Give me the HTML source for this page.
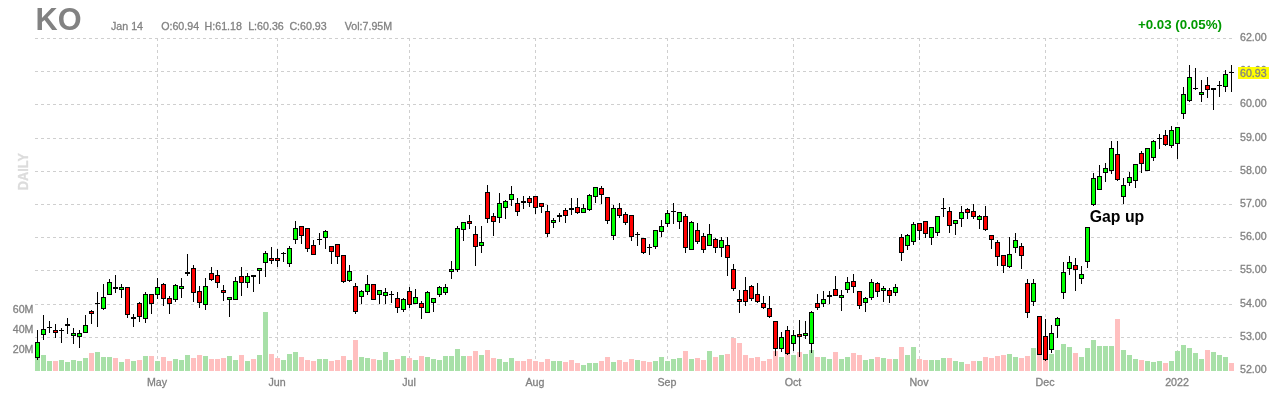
<!DOCTYPE html>
<html lang="en"><head><meta charset="utf-8"><title>KO Daily Chart</title>
<style>html,body{margin:0;padding:0;background:#fff;}body{width:1280px;height:400px;overflow:hidden;}svg{display:block;will-change:transform;}text{font-family:"Liberation Sans", Arial, Helvetica, sans-serif;}.l{font-size:10.67px;fill:#828282;stroke:#828282;stroke-width:0.3px;}</style></head><body>
<svg width="1280" height="400" viewBox="0 0 1280 400">
<g shape-rendering="crispEdges" stroke="#cfcfcf" stroke-width="1" stroke-dasharray="3 3" fill="none">
<line x1="35" y1="38.5" x2="1232" y2="38.5"/>
<line x1="35" y1="71.5" x2="1232" y2="71.5"/>
<line x1="35" y1="104.5" x2="1232" y2="104.5"/>
<line x1="35" y1="138.5" x2="1232" y2="138.5"/>
<line x1="35" y1="171.5" x2="1232" y2="171.5"/>
<line x1="35" y1="204.5" x2="1232" y2="204.5"/>
<line x1="35" y1="237.5" x2="1232" y2="237.5"/>
<line x1="35" y1="270.5" x2="1232" y2="270.5"/>
<line x1="35" y1="304.5" x2="1232" y2="304.5"/>
<line x1="35" y1="337.5" x2="1232" y2="337.5"/>
<line x1="157.5" y1="38" x2="157.5" y2="371"/>
<line x1="277.5" y1="38" x2="277.5" y2="371"/>
<line x1="409.5" y1="38" x2="409.5" y2="371"/>
<line x1="535.5" y1="38" x2="535.5" y2="371"/>
<line x1="667.5" y1="38" x2="667.5" y2="371"/>
<line x1="793.5" y1="38" x2="793.5" y2="371"/>
<line x1="919.5" y1="38" x2="919.5" y2="371"/>
<line x1="1045.5" y1="38" x2="1045.5" y2="371"/>
<line x1="1177.5" y1="38" x2="1177.5" y2="371"/>
</g>
<g shape-rendering="crispEdges">
<rect x="35" y="358" width="5" height="13" fill="#a8e0a8"/>
<rect x="41" y="355" width="5" height="16" fill="#a8e0a8"/>
<rect x="47" y="361" width="5" height="10" fill="#a8e0a8"/>
<rect x="53" y="361" width="5" height="10" fill="#ffbfbf"/>
<rect x="59" y="360" width="5" height="11" fill="#a8e0a8"/>
<rect x="65" y="362" width="5" height="9" fill="#a8e0a8"/>
<rect x="71" y="360" width="5" height="11" fill="#a8e0a8"/>
<rect x="77" y="361" width="5" height="10" fill="#a8e0a8"/>
<rect x="83" y="358" width="5" height="13" fill="#a8e0a8"/>
<rect x="89" y="353" width="5" height="18" fill="#ffbfbf"/>
<rect x="95" y="352" width="5" height="19" fill="#a8e0a8"/>
<rect x="101" y="357" width="5" height="14" fill="#a8e0a8"/>
<rect x="107" y="357" width="5" height="14" fill="#a8e0a8"/>
<rect x="113" y="358" width="5" height="13" fill="#ffbfbf"/>
<rect x="119" y="362" width="5" height="9" fill="#a8e0a8"/>
<rect x="125" y="359" width="5" height="12" fill="#ffbfbf"/>
<rect x="131" y="361" width="5" height="10" fill="#a8e0a8"/>
<rect x="137" y="360" width="5" height="11" fill="#ffbfbf"/>
<rect x="143" y="356" width="5" height="15" fill="#a8e0a8"/>
<rect x="149" y="356" width="5" height="15" fill="#ffbfbf"/>
<rect x="155" y="361" width="5" height="10" fill="#a8e0a8"/>
<rect x="161" y="357" width="5" height="14" fill="#ffbfbf"/>
<rect x="167" y="361" width="5" height="10" fill="#ffbfbf"/>
<rect x="173" y="359" width="5" height="12" fill="#a8e0a8"/>
<rect x="179" y="360" width="5" height="11" fill="#a8e0a8"/>
<rect x="185" y="355" width="5" height="16" fill="#a8e0a8"/>
<rect x="191" y="358" width="5" height="13" fill="#ffbfbf"/>
<rect x="197" y="355" width="5" height="16" fill="#ffbfbf"/>
<rect x="203" y="356" width="5" height="15" fill="#a8e0a8"/>
<rect x="209" y="359" width="5" height="12" fill="#ffbfbf"/>
<rect x="215" y="359" width="5" height="12" fill="#ffbfbf"/>
<rect x="221" y="358" width="5" height="13" fill="#ffbfbf"/>
<rect x="227" y="356" width="5" height="15" fill="#a8e0a8"/>
<rect x="233" y="360" width="5" height="11" fill="#a8e0a8"/>
<rect x="239" y="355" width="5" height="16" fill="#ffbfbf"/>
<rect x="245" y="361" width="5" height="10" fill="#a8e0a8"/>
<rect x="251" y="359" width="5" height="12" fill="#ffbfbf"/>
<rect x="257" y="355" width="5" height="16" fill="#a8e0a8"/>
<rect x="263" y="312" width="5" height="59" fill="#a8e0a8"/>
<rect x="269" y="354" width="5" height="17" fill="#ffbfbf"/>
<rect x="275" y="358" width="5" height="13" fill="#ffbfbf"/>
<rect x="281" y="360" width="5" height="11" fill="#a8e0a8"/>
<rect x="287" y="354" width="5" height="17" fill="#a8e0a8"/>
<rect x="293" y="352" width="5" height="19" fill="#a8e0a8"/>
<rect x="299" y="357" width="5" height="14" fill="#ffbfbf"/>
<rect x="305" y="360" width="5" height="11" fill="#ffbfbf"/>
<rect x="311" y="361" width="5" height="10" fill="#ffbfbf"/>
<rect x="317" y="359" width="5" height="12" fill="#a8e0a8"/>
<rect x="323" y="359" width="5" height="12" fill="#a8e0a8"/>
<rect x="329" y="361" width="5" height="10" fill="#ffbfbf"/>
<rect x="335" y="360" width="5" height="11" fill="#ffbfbf"/>
<rect x="341" y="356" width="5" height="15" fill="#ffbfbf"/>
<rect x="347" y="360" width="5" height="11" fill="#a8e0a8"/>
<rect x="353" y="340" width="5" height="31" fill="#ffbfbf"/>
<rect x="359" y="357" width="5" height="14" fill="#a8e0a8"/>
<rect x="365" y="358" width="5" height="13" fill="#a8e0a8"/>
<rect x="371" y="359" width="5" height="12" fill="#ffbfbf"/>
<rect x="377" y="360" width="5" height="11" fill="#a8e0a8"/>
<rect x="383" y="352" width="5" height="19" fill="#a8e0a8"/>
<rect x="389" y="360" width="5" height="11" fill="#a8e0a8"/>
<rect x="395" y="359" width="5" height="12" fill="#ffbfbf"/>
<rect x="401" y="356" width="5" height="15" fill="#a8e0a8"/>
<rect x="407" y="358" width="5" height="13" fill="#ffbfbf"/>
<rect x="413" y="360" width="5" height="11" fill="#a8e0a8"/>
<rect x="419" y="356" width="5" height="15" fill="#ffbfbf"/>
<rect x="425" y="357" width="5" height="14" fill="#a8e0a8"/>
<rect x="431" y="359" width="5" height="12" fill="#a8e0a8"/>
<rect x="437" y="360" width="5" height="11" fill="#a8e0a8"/>
<rect x="443" y="356" width="5" height="15" fill="#a8e0a8"/>
<rect x="449" y="356" width="5" height="15" fill="#a8e0a8"/>
<rect x="455" y="349" width="5" height="22" fill="#a8e0a8"/>
<rect x="461" y="356" width="5" height="15" fill="#a8e0a8"/>
<rect x="467" y="356" width="5" height="15" fill="#ffbfbf"/>
<rect x="473" y="351" width="5" height="20" fill="#ffbfbf"/>
<rect x="479" y="355" width="5" height="16" fill="#a8e0a8"/>
<rect x="485" y="350" width="5" height="21" fill="#ffbfbf"/>
<rect x="491" y="358" width="5" height="13" fill="#ffbfbf"/>
<rect x="497" y="359" width="5" height="12" fill="#a8e0a8"/>
<rect x="503" y="362" width="5" height="9" fill="#a8e0a8"/>
<rect x="509" y="358" width="5" height="13" fill="#a8e0a8"/>
<rect x="515" y="361" width="5" height="10" fill="#ffbfbf"/>
<rect x="521" y="361" width="5" height="10" fill="#ffbfbf"/>
<rect x="527" y="359" width="5" height="12" fill="#ffbfbf"/>
<rect x="533" y="361" width="5" height="10" fill="#ffbfbf"/>
<rect x="539" y="362" width="5" height="9" fill="#ffbfbf"/>
<rect x="545" y="359" width="5" height="12" fill="#ffbfbf"/>
<rect x="551" y="361" width="5" height="10" fill="#a8e0a8"/>
<rect x="557" y="361" width="5" height="10" fill="#a8e0a8"/>
<rect x="563" y="362" width="5" height="9" fill="#ffbfbf"/>
<rect x="569" y="360" width="5" height="11" fill="#ffbfbf"/>
<rect x="575" y="363" width="5" height="8" fill="#ffbfbf"/>
<rect x="581" y="365" width="5" height="6" fill="#a8e0a8"/>
<rect x="587" y="363" width="5" height="8" fill="#a8e0a8"/>
<rect x="593" y="363" width="5" height="8" fill="#a8e0a8"/>
<rect x="599" y="361" width="5" height="10" fill="#ffbfbf"/>
<rect x="605" y="357" width="5" height="14" fill="#ffbfbf"/>
<rect x="611" y="362" width="5" height="9" fill="#a8e0a8"/>
<rect x="617" y="360" width="5" height="11" fill="#ffbfbf"/>
<rect x="623" y="362" width="5" height="9" fill="#ffbfbf"/>
<rect x="629" y="359" width="5" height="12" fill="#ffbfbf"/>
<rect x="635" y="360" width="5" height="11" fill="#a8e0a8"/>
<rect x="641" y="361" width="5" height="10" fill="#ffbfbf"/>
<rect x="647" y="362" width="5" height="9" fill="#ffbfbf"/>
<rect x="653" y="361" width="5" height="10" fill="#a8e0a8"/>
<rect x="659" y="357" width="5" height="14" fill="#a8e0a8"/>
<rect x="665" y="361" width="5" height="10" fill="#a8e0a8"/>
<rect x="671" y="359" width="5" height="12" fill="#a8e0a8"/>
<rect x="677" y="358" width="5" height="13" fill="#a8e0a8"/>
<rect x="683" y="351" width="5" height="20" fill="#ffbfbf"/>
<rect x="689" y="359" width="5" height="12" fill="#a8e0a8"/>
<rect x="695" y="358" width="5" height="13" fill="#ffbfbf"/>
<rect x="701" y="360" width="5" height="11" fill="#ffbfbf"/>
<rect x="707" y="351" width="5" height="20" fill="#a8e0a8"/>
<rect x="713" y="357" width="5" height="14" fill="#ffbfbf"/>
<rect x="719" y="355" width="5" height="16" fill="#a8e0a8"/>
<rect x="725" y="354" width="5" height="17" fill="#ffbfbf"/>
<rect x="731" y="338" width="5" height="33" fill="#ffbfbf"/>
<rect x="737" y="343" width="5" height="28" fill="#ffbfbf"/>
<rect x="743" y="355" width="5" height="16" fill="#ffbfbf"/>
<rect x="749" y="358" width="5" height="13" fill="#ffbfbf"/>
<rect x="755" y="357" width="5" height="14" fill="#ffbfbf"/>
<rect x="761" y="361" width="5" height="10" fill="#ffbfbf"/>
<rect x="767" y="359" width="5" height="12" fill="#ffbfbf"/>
<rect x="773" y="351" width="5" height="20" fill="#ffbfbf"/>
<rect x="779" y="357" width="5" height="14" fill="#a8e0a8"/>
<rect x="785" y="354" width="5" height="17" fill="#ffbfbf"/>
<rect x="791" y="355" width="5" height="16" fill="#a8e0a8"/>
<rect x="797" y="352" width="5" height="19" fill="#ffbfbf"/>
<rect x="803" y="354" width="5" height="17" fill="#a8e0a8"/>
<rect x="809" y="350" width="5" height="21" fill="#a8e0a8"/>
<rect x="815" y="357" width="5" height="14" fill="#ffbfbf"/>
<rect x="821" y="357" width="5" height="14" fill="#a8e0a8"/>
<rect x="827" y="359" width="5" height="12" fill="#a8e0a8"/>
<rect x="833" y="352" width="5" height="19" fill="#ffbfbf"/>
<rect x="839" y="359" width="5" height="12" fill="#a8e0a8"/>
<rect x="845" y="357" width="5" height="14" fill="#a8e0a8"/>
<rect x="851" y="353" width="5" height="18" fill="#ffbfbf"/>
<rect x="857" y="355" width="5" height="16" fill="#ffbfbf"/>
<rect x="863" y="360" width="5" height="11" fill="#a8e0a8"/>
<rect x="869" y="359" width="5" height="12" fill="#a8e0a8"/>
<rect x="875" y="357" width="5" height="14" fill="#ffbfbf"/>
<rect x="881" y="358" width="5" height="13" fill="#a8e0a8"/>
<rect x="887" y="359" width="5" height="12" fill="#ffbfbf"/>
<rect x="893" y="359" width="5" height="12" fill="#a8e0a8"/>
<rect x="899" y="347" width="5" height="24" fill="#ffbfbf"/>
<rect x="905" y="355" width="5" height="16" fill="#a8e0a8"/>
<rect x="911" y="347" width="5" height="24" fill="#a8e0a8"/>
<rect x="917" y="359" width="5" height="12" fill="#ffbfbf"/>
<rect x="923" y="360" width="5" height="11" fill="#ffbfbf"/>
<rect x="929" y="360" width="5" height="11" fill="#a8e0a8"/>
<rect x="935" y="360" width="5" height="11" fill="#a8e0a8"/>
<rect x="941" y="358" width="5" height="13" fill="#a8e0a8"/>
<rect x="947" y="358" width="5" height="13" fill="#ffbfbf"/>
<rect x="953" y="361" width="5" height="10" fill="#a8e0a8"/>
<rect x="959" y="362" width="5" height="9" fill="#a8e0a8"/>
<rect x="965" y="364" width="5" height="7" fill="#ffbfbf"/>
<rect x="971" y="361" width="5" height="10" fill="#ffbfbf"/>
<rect x="977" y="361" width="5" height="10" fill="#a8e0a8"/>
<rect x="983" y="357" width="5" height="14" fill="#ffbfbf"/>
<rect x="989" y="358" width="5" height="13" fill="#ffbfbf"/>
<rect x="995" y="356" width="5" height="15" fill="#ffbfbf"/>
<rect x="1001" y="355" width="5" height="16" fill="#ffbfbf"/>
<rect x="1007" y="354" width="5" height="17" fill="#a8e0a8"/>
<rect x="1013" y="357" width="5" height="14" fill="#a8e0a8"/>
<rect x="1019" y="358" width="5" height="13" fill="#ffbfbf"/>
<rect x="1025" y="356" width="5" height="15" fill="#ffbfbf"/>
<rect x="1031" y="348" width="5" height="23" fill="#a8e0a8"/>
<rect x="1037" y="355" width="5" height="16" fill="#ffbfbf"/>
<rect x="1043" y="360" width="5" height="11" fill="#ffbfbf"/>
<rect x="1049" y="354" width="5" height="17" fill="#a8e0a8"/>
<rect x="1055" y="350" width="5" height="21" fill="#a8e0a8"/>
<rect x="1061" y="344" width="5" height="27" fill="#a8e0a8"/>
<rect x="1067" y="347" width="5" height="24" fill="#a8e0a8"/>
<rect x="1073" y="353" width="5" height="18" fill="#ffbfbf"/>
<rect x="1079" y="357" width="5" height="14" fill="#a8e0a8"/>
<rect x="1085" y="348" width="5" height="23" fill="#a8e0a8"/>
<rect x="1091" y="340" width="5" height="31" fill="#a8e0a8"/>
<rect x="1097" y="346" width="5" height="25" fill="#a8e0a8"/>
<rect x="1103" y="346" width="5" height="25" fill="#a8e0a8"/>
<rect x="1109" y="346" width="5" height="25" fill="#a8e0a8"/>
<rect x="1115" y="319" width="5" height="52" fill="#ffbfbf"/>
<rect x="1121" y="350" width="5" height="21" fill="#a8e0a8"/>
<rect x="1127" y="355" width="5" height="16" fill="#a8e0a8"/>
<rect x="1133" y="359" width="5" height="12" fill="#a8e0a8"/>
<rect x="1139" y="360" width="5" height="11" fill="#ffbfbf"/>
<rect x="1145" y="361" width="5" height="10" fill="#a8e0a8"/>
<rect x="1151" y="362" width="5" height="9" fill="#a8e0a8"/>
<rect x="1157" y="361" width="5" height="10" fill="#a8e0a8"/>
<rect x="1163" y="363" width="5" height="8" fill="#ffbfbf"/>
<rect x="1169" y="361" width="5" height="10" fill="#a8e0a8"/>
<rect x="1175" y="351" width="5" height="20" fill="#a8e0a8"/>
<rect x="1181" y="345" width="5" height="26" fill="#a8e0a8"/>
<rect x="1187" y="348" width="5" height="23" fill="#a8e0a8"/>
<rect x="1193" y="353" width="5" height="18" fill="#a8e0a8"/>
<rect x="1199" y="359" width="5" height="12" fill="#a8e0a8"/>
<rect x="1205" y="350" width="5" height="21" fill="#ffbfbf"/>
<rect x="1211" y="352" width="5" height="19" fill="#a8e0a8"/>
<rect x="1217" y="355" width="5" height="16" fill="#a8e0a8"/>
<rect x="1223" y="357" width="5" height="14" fill="#a8e0a8"/>
<rect x="1229" y="363" width="5" height="8" fill="#ffbfbf"/>
</g>
<g shape-rendering="crispEdges">
<rect x="37" y="330" width="1" height="30" fill="#000"/>
<rect x="35" y="342" width="5" height="16" fill="#000"/>
<rect x="36" y="343" width="3" height="14" fill="#00ff00"/>
<rect x="43" y="315" width="1" height="25" fill="#000"/>
<rect x="41" y="329" width="5" height="6" fill="#000"/>
<rect x="42" y="330" width="3" height="4" fill="#00ff00"/>
<rect x="49" y="321" width="1" height="12" fill="#000"/>
<rect x="47" y="327" width="5" height="1" fill="#000"/>
<rect x="55" y="324" width="1" height="14" fill="#000"/>
<rect x="53" y="330" width="5" height="3" fill="#000"/>
<rect x="54" y="331" width="3" height="1" fill="#ff0000"/>
<rect x="61" y="328" width="1" height="15" fill="#000"/>
<rect x="59" y="330" width="5" height="1" fill="#000"/>
<rect x="67" y="318" width="1" height="16" fill="#000"/>
<rect x="65" y="324" width="5" height="2" fill="#000"/>
<rect x="73" y="328" width="1" height="16" fill="#000"/>
<rect x="71" y="333" width="5" height="3" fill="#000"/>
<rect x="72" y="334" width="3" height="1" fill="#00ff00"/>
<rect x="79" y="330" width="1" height="18" fill="#000"/>
<rect x="77" y="333" width="5" height="4" fill="#000"/>
<rect x="78" y="334" width="3" height="2" fill="#00ff00"/>
<rect x="85" y="315" width="1" height="18" fill="#000"/>
<rect x="83" y="325" width="5" height="8" fill="#000"/>
<rect x="84" y="326" width="3" height="6" fill="#00ff00"/>
<rect x="91" y="310" width="1" height="14" fill="#000"/>
<rect x="89" y="311" width="5" height="3" fill="#000"/>
<rect x="90" y="312" width="3" height="1" fill="#ff0000"/>
<rect x="97" y="292" width="1" height="35" fill="#000"/>
<rect x="95" y="303" width="5" height="1" fill="#000"/>
<rect x="103" y="284" width="1" height="26" fill="#000"/>
<rect x="101" y="297" width="5" height="12" fill="#000"/>
<rect x="102" y="298" width="3" height="10" fill="#00ff00"/>
<rect x="109" y="279" width="1" height="16" fill="#000"/>
<rect x="107" y="282" width="5" height="13" fill="#000"/>
<rect x="108" y="283" width="3" height="11" fill="#00ff00"/>
<rect x="115" y="275" width="1" height="18" fill="#000"/>
<rect x="113" y="287" width="5" height="2" fill="#000"/>
<rect x="121" y="284" width="1" height="14" fill="#000"/>
<rect x="119" y="287" width="5" height="3" fill="#000"/>
<rect x="120" y="288" width="3" height="1" fill="#00ff00"/>
<rect x="127" y="287" width="1" height="31" fill="#000"/>
<rect x="125" y="287" width="5" height="28" fill="#000"/>
<rect x="126" y="288" width="3" height="26" fill="#ff0000"/>
<rect x="133" y="314" width="1" height="13" fill="#000"/>
<rect x="131" y="317" width="5" height="2" fill="#000"/>
<rect x="139" y="302" width="1" height="20" fill="#000"/>
<rect x="137" y="303" width="5" height="14" fill="#000"/>
<rect x="138" y="304" width="3" height="12" fill="#ff0000"/>
<rect x="145" y="292" width="1" height="31" fill="#000"/>
<rect x="143" y="294" width="5" height="25" fill="#000"/>
<rect x="144" y="295" width="3" height="23" fill="#00ff00"/>
<rect x="151" y="294" width="1" height="20" fill="#000"/>
<rect x="149" y="294" width="5" height="10" fill="#000"/>
<rect x="150" y="295" width="3" height="8" fill="#ff0000"/>
<rect x="157" y="278" width="1" height="21" fill="#000"/>
<rect x="155" y="287" width="5" height="8" fill="#000"/>
<rect x="156" y="288" width="3" height="6" fill="#00ff00"/>
<rect x="163" y="283" width="1" height="23" fill="#000"/>
<rect x="161" y="284" width="5" height="15" fill="#000"/>
<rect x="162" y="285" width="3" height="13" fill="#ff0000"/>
<rect x="169" y="296" width="1" height="18" fill="#000"/>
<rect x="167" y="298" width="5" height="6" fill="#000"/>
<rect x="168" y="299" width="3" height="4" fill="#ff0000"/>
<rect x="175" y="284" width="1" height="18" fill="#000"/>
<rect x="173" y="285" width="5" height="15" fill="#000"/>
<rect x="174" y="286" width="3" height="13" fill="#00ff00"/>
<rect x="181" y="278" width="1" height="20" fill="#000"/>
<rect x="179" y="286" width="5" height="3" fill="#000"/>
<rect x="180" y="287" width="3" height="1" fill="#00ff00"/>
<rect x="187" y="254" width="1" height="22" fill="#000"/>
<rect x="185" y="272" width="5" height="2" fill="#000"/>
<rect x="193" y="265" width="1" height="37" fill="#000"/>
<rect x="191" y="268" width="5" height="25" fill="#000"/>
<rect x="192" y="269" width="3" height="23" fill="#ff0000"/>
<rect x="199" y="286" width="1" height="22" fill="#000"/>
<rect x="197" y="291" width="5" height="12" fill="#000"/>
<rect x="198" y="292" width="3" height="10" fill="#ff0000"/>
<rect x="205" y="278" width="1" height="32" fill="#000"/>
<rect x="203" y="286" width="5" height="19" fill="#000"/>
<rect x="204" y="287" width="3" height="17" fill="#00ff00"/>
<rect x="211" y="267" width="1" height="14" fill="#000"/>
<rect x="209" y="273" width="5" height="7" fill="#000"/>
<rect x="210" y="274" width="3" height="5" fill="#ff0000"/>
<rect x="217" y="270" width="1" height="18" fill="#000"/>
<rect x="215" y="275" width="5" height="8" fill="#000"/>
<rect x="216" y="276" width="3" height="6" fill="#ff0000"/>
<rect x="223" y="285" width="1" height="16" fill="#000"/>
<rect x="221" y="290" width="5" height="3" fill="#000"/>
<rect x="222" y="291" width="3" height="1" fill="#ff0000"/>
<rect x="229" y="297" width="1" height="20" fill="#000"/>
<rect x="227" y="297" width="5" height="3" fill="#000"/>
<rect x="228" y="298" width="3" height="1" fill="#00ff00"/>
<rect x="235" y="277" width="1" height="23" fill="#000"/>
<rect x="233" y="281" width="5" height="19" fill="#000"/>
<rect x="234" y="282" width="3" height="17" fill="#00ff00"/>
<rect x="241" y="267" width="1" height="29" fill="#000"/>
<rect x="239" y="276" width="5" height="7" fill="#000"/>
<rect x="240" y="277" width="3" height="5" fill="#ff0000"/>
<rect x="247" y="273" width="1" height="15" fill="#000"/>
<rect x="245" y="276" width="5" height="7" fill="#000"/>
<rect x="246" y="277" width="3" height="5" fill="#00ff00"/>
<rect x="253" y="275" width="1" height="17" fill="#000"/>
<rect x="251" y="275" width="5" height="2" fill="#000"/>
<rect x="259" y="268" width="1" height="16" fill="#000"/>
<rect x="257" y="268" width="5" height="3" fill="#000"/>
<rect x="258" y="269" width="3" height="1" fill="#00ff00"/>
<rect x="265" y="251" width="1" height="26" fill="#000"/>
<rect x="263" y="253" width="5" height="10" fill="#000"/>
<rect x="264" y="254" width="3" height="8" fill="#00ff00"/>
<rect x="271" y="247" width="1" height="17" fill="#000"/>
<rect x="269" y="258" width="5" height="3" fill="#000"/>
<rect x="270" y="259" width="3" height="1" fill="#ff0000"/>
<rect x="277" y="249" width="1" height="18" fill="#000"/>
<rect x="275" y="258" width="5" height="3" fill="#000"/>
<rect x="276" y="259" width="3" height="1" fill="#ff0000"/>
<rect x="283" y="252" width="1" height="10" fill="#000"/>
<rect x="281" y="253" width="5" height="1" fill="#000"/>
<rect x="289" y="246" width="1" height="21" fill="#000"/>
<rect x="287" y="248" width="5" height="16" fill="#000"/>
<rect x="288" y="249" width="3" height="14" fill="#00ff00"/>
<rect x="295" y="221" width="1" height="23" fill="#000"/>
<rect x="293" y="228" width="5" height="12" fill="#000"/>
<rect x="294" y="229" width="3" height="10" fill="#00ff00"/>
<rect x="301" y="226" width="1" height="18" fill="#000"/>
<rect x="299" y="226" width="5" height="10" fill="#000"/>
<rect x="300" y="227" width="3" height="8" fill="#ff0000"/>
<rect x="307" y="228" width="1" height="24" fill="#000"/>
<rect x="305" y="228" width="5" height="21" fill="#000"/>
<rect x="306" y="229" width="3" height="19" fill="#ff0000"/>
<rect x="313" y="240" width="1" height="15" fill="#000"/>
<rect x="311" y="245" width="5" height="10" fill="#000"/>
<rect x="312" y="246" width="3" height="8" fill="#ff0000"/>
<rect x="319" y="233" width="1" height="12" fill="#000"/>
<rect x="317" y="239" width="5" height="1" fill="#000"/>
<rect x="325" y="230" width="1" height="19" fill="#000"/>
<rect x="323" y="231" width="5" height="7" fill="#000"/>
<rect x="324" y="232" width="3" height="5" fill="#00ff00"/>
<rect x="331" y="246" width="1" height="18" fill="#000"/>
<rect x="329" y="246" width="5" height="6" fill="#000"/>
<rect x="330" y="247" width="3" height="4" fill="#ff0000"/>
<rect x="337" y="244" width="1" height="20" fill="#000"/>
<rect x="335" y="244" width="5" height="13" fill="#000"/>
<rect x="336" y="245" width="3" height="11" fill="#ff0000"/>
<rect x="343" y="255" width="1" height="28" fill="#000"/>
<rect x="341" y="255" width="5" height="27" fill="#000"/>
<rect x="342" y="256" width="3" height="25" fill="#ff0000"/>
<rect x="349" y="265" width="1" height="17" fill="#000"/>
<rect x="347" y="271" width="5" height="10" fill="#000"/>
<rect x="348" y="272" width="3" height="8" fill="#00ff00"/>
<rect x="355" y="283" width="1" height="31" fill="#000"/>
<rect x="353" y="286" width="5" height="26" fill="#000"/>
<rect x="354" y="287" width="3" height="24" fill="#ff0000"/>
<rect x="361" y="290" width="1" height="14" fill="#000"/>
<rect x="359" y="291" width="5" height="6" fill="#000"/>
<rect x="360" y="292" width="3" height="4" fill="#00ff00"/>
<rect x="367" y="275" width="1" height="20" fill="#000"/>
<rect x="365" y="284" width="5" height="8" fill="#000"/>
<rect x="366" y="285" width="3" height="6" fill="#00ff00"/>
<rect x="373" y="284" width="1" height="16" fill="#000"/>
<rect x="371" y="284" width="5" height="16" fill="#000"/>
<rect x="372" y="285" width="3" height="14" fill="#ff0000"/>
<rect x="379" y="290" width="1" height="14" fill="#000"/>
<rect x="377" y="290" width="5" height="5" fill="#000"/>
<rect x="378" y="291" width="3" height="3" fill="#00ff00"/>
<rect x="385" y="288" width="1" height="16" fill="#000"/>
<rect x="383" y="292" width="5" height="4" fill="#000"/>
<rect x="384" y="293" width="3" height="2" fill="#00ff00"/>
<rect x="391" y="291" width="1" height="12" fill="#000"/>
<rect x="389" y="294" width="5" height="1" fill="#000"/>
<rect x="397" y="292" width="1" height="21" fill="#000"/>
<rect x="395" y="298" width="5" height="10" fill="#000"/>
<rect x="396" y="299" width="3" height="8" fill="#ff0000"/>
<rect x="403" y="298" width="1" height="14" fill="#000"/>
<rect x="401" y="299" width="5" height="11" fill="#000"/>
<rect x="402" y="300" width="3" height="9" fill="#00ff00"/>
<rect x="409" y="287" width="1" height="21" fill="#000"/>
<rect x="407" y="291" width="5" height="14" fill="#000"/>
<rect x="408" y="292" width="3" height="12" fill="#ff0000"/>
<rect x="415" y="289" width="1" height="15" fill="#000"/>
<rect x="413" y="297" width="5" height="7" fill="#000"/>
<rect x="414" y="298" width="3" height="5" fill="#00ff00"/>
<rect x="421" y="301" width="1" height="18" fill="#000"/>
<rect x="419" y="303" width="5" height="5" fill="#000"/>
<rect x="420" y="304" width="3" height="3" fill="#ff0000"/>
<rect x="427" y="291" width="1" height="22" fill="#000"/>
<rect x="425" y="292" width="5" height="21" fill="#000"/>
<rect x="426" y="293" width="3" height="19" fill="#00ff00"/>
<rect x="433" y="298" width="1" height="14" fill="#000"/>
<rect x="431" y="298" width="5" height="5" fill="#000"/>
<rect x="432" y="299" width="3" height="3" fill="#00ff00"/>
<rect x="439" y="286" width="1" height="11" fill="#000"/>
<rect x="437" y="287" width="5" height="8" fill="#000"/>
<rect x="438" y="288" width="3" height="6" fill="#00ff00"/>
<rect x="445" y="284" width="1" height="11" fill="#000"/>
<rect x="443" y="287" width="5" height="6" fill="#000"/>
<rect x="444" y="288" width="3" height="4" fill="#00ff00"/>
<rect x="451" y="261" width="1" height="18" fill="#000"/>
<rect x="449" y="269" width="5" height="3" fill="#000"/>
<rect x="450" y="270" width="3" height="1" fill="#00ff00"/>
<rect x="457" y="226" width="1" height="46" fill="#000"/>
<rect x="455" y="228" width="5" height="42" fill="#000"/>
<rect x="456" y="229" width="3" height="40" fill="#00ff00"/>
<rect x="463" y="222" width="1" height="19" fill="#000"/>
<rect x="461" y="222" width="5" height="8" fill="#000"/>
<rect x="462" y="223" width="3" height="6" fill="#00ff00"/>
<rect x="469" y="215" width="1" height="14" fill="#000"/>
<rect x="467" y="221" width="5" height="3" fill="#000"/>
<rect x="468" y="222" width="3" height="1" fill="#ff0000"/>
<rect x="475" y="226" width="1" height="40" fill="#000"/>
<rect x="473" y="234" width="5" height="13" fill="#000"/>
<rect x="474" y="235" width="3" height="11" fill="#ff0000"/>
<rect x="481" y="226" width="1" height="27" fill="#000"/>
<rect x="479" y="242" width="5" height="4" fill="#000"/>
<rect x="480" y="243" width="3" height="2" fill="#00ff00"/>
<rect x="487" y="185" width="1" height="38" fill="#000"/>
<rect x="485" y="192" width="5" height="27" fill="#000"/>
<rect x="486" y="193" width="3" height="25" fill="#ff0000"/>
<rect x="493" y="213" width="1" height="23" fill="#000"/>
<rect x="491" y="216" width="5" height="6" fill="#000"/>
<rect x="492" y="217" width="3" height="4" fill="#ff0000"/>
<rect x="499" y="193" width="1" height="30" fill="#000"/>
<rect x="497" y="203" width="5" height="15" fill="#000"/>
<rect x="498" y="204" width="3" height="13" fill="#00ff00"/>
<rect x="505" y="200" width="1" height="19" fill="#000"/>
<rect x="503" y="201" width="5" height="7" fill="#000"/>
<rect x="504" y="202" width="3" height="5" fill="#00ff00"/>
<rect x="511" y="186" width="1" height="20" fill="#000"/>
<rect x="509" y="194" width="5" height="6" fill="#000"/>
<rect x="510" y="195" width="3" height="4" fill="#00ff00"/>
<rect x="517" y="198" width="1" height="18" fill="#000"/>
<rect x="515" y="203" width="5" height="9" fill="#000"/>
<rect x="516" y="204" width="3" height="7" fill="#ff0000"/>
<rect x="523" y="196" width="1" height="13" fill="#000"/>
<rect x="521" y="201" width="5" height="2" fill="#000"/>
<rect x="529" y="196" width="1" height="11" fill="#000"/>
<rect x="527" y="198" width="5" height="5" fill="#000"/>
<rect x="528" y="199" width="3" height="3" fill="#ff0000"/>
<rect x="535" y="196" width="1" height="18" fill="#000"/>
<rect x="533" y="196" width="5" height="12" fill="#000"/>
<rect x="534" y="197" width="3" height="10" fill="#ff0000"/>
<rect x="541" y="203" width="1" height="10" fill="#000"/>
<rect x="539" y="203" width="5" height="4" fill="#000"/>
<rect x="540" y="204" width="3" height="2" fill="#ff0000"/>
<rect x="547" y="205" width="1" height="32" fill="#000"/>
<rect x="545" y="211" width="5" height="23" fill="#000"/>
<rect x="546" y="212" width="3" height="21" fill="#ff0000"/>
<rect x="553" y="218" width="1" height="10" fill="#000"/>
<rect x="551" y="220" width="5" height="3" fill="#000"/>
<rect x="552" y="221" width="3" height="1" fill="#00ff00"/>
<rect x="559" y="213" width="1" height="9" fill="#000"/>
<rect x="557" y="215" width="5" height="2" fill="#000"/>
<rect x="565" y="208" width="1" height="15" fill="#000"/>
<rect x="563" y="210" width="5" height="6" fill="#000"/>
<rect x="564" y="211" width="3" height="4" fill="#ff0000"/>
<rect x="571" y="198" width="1" height="17" fill="#000"/>
<rect x="569" y="208" width="5" height="2" fill="#000"/>
<rect x="577" y="198" width="1" height="16" fill="#000"/>
<rect x="575" y="207" width="5" height="6" fill="#000"/>
<rect x="576" y="208" width="3" height="4" fill="#ff0000"/>
<rect x="583" y="204" width="1" height="9" fill="#000"/>
<rect x="581" y="208" width="5" height="5" fill="#000"/>
<rect x="582" y="209" width="3" height="3" fill="#00ff00"/>
<rect x="589" y="194" width="1" height="17" fill="#000"/>
<rect x="587" y="195" width="5" height="15" fill="#000"/>
<rect x="588" y="196" width="3" height="13" fill="#00ff00"/>
<rect x="595" y="187" width="1" height="16" fill="#000"/>
<rect x="593" y="187" width="5" height="10" fill="#000"/>
<rect x="594" y="188" width="3" height="8" fill="#00ff00"/>
<rect x="601" y="186" width="1" height="18" fill="#000"/>
<rect x="599" y="188" width="5" height="7" fill="#000"/>
<rect x="600" y="189" width="3" height="5" fill="#ff0000"/>
<rect x="607" y="197" width="1" height="27" fill="#000"/>
<rect x="605" y="197" width="5" height="24" fill="#000"/>
<rect x="606" y="198" width="3" height="22" fill="#ff0000"/>
<rect x="613" y="205" width="1" height="35" fill="#000"/>
<rect x="611" y="208" width="5" height="28" fill="#000"/>
<rect x="612" y="209" width="3" height="26" fill="#00ff00"/>
<rect x="619" y="203" width="1" height="15" fill="#000"/>
<rect x="617" y="208" width="5" height="8" fill="#000"/>
<rect x="618" y="209" width="3" height="6" fill="#ff0000"/>
<rect x="625" y="212" width="1" height="13" fill="#000"/>
<rect x="623" y="214" width="5" height="9" fill="#000"/>
<rect x="624" y="215" width="3" height="7" fill="#ff0000"/>
<rect x="631" y="215" width="1" height="26" fill="#000"/>
<rect x="629" y="215" width="5" height="22" fill="#000"/>
<rect x="630" y="216" width="3" height="20" fill="#ff0000"/>
<rect x="637" y="232" width="1" height="14" fill="#000"/>
<rect x="635" y="234" width="5" height="1" fill="#000"/>
<rect x="643" y="238" width="1" height="16" fill="#000"/>
<rect x="641" y="238" width="5" height="15" fill="#000"/>
<rect x="642" y="239" width="3" height="13" fill="#ff0000"/>
<rect x="649" y="244" width="1" height="11" fill="#000"/>
<rect x="647" y="247" width="5" height="1" fill="#000"/>
<rect x="655" y="230" width="1" height="19" fill="#000"/>
<rect x="653" y="230" width="5" height="17" fill="#000"/>
<rect x="654" y="231" width="3" height="15" fill="#00ff00"/>
<rect x="661" y="220" width="1" height="17" fill="#000"/>
<rect x="659" y="226" width="5" height="6" fill="#000"/>
<rect x="660" y="227" width="3" height="4" fill="#00ff00"/>
<rect x="667" y="210" width="1" height="17" fill="#000"/>
<rect x="665" y="213" width="5" height="11" fill="#000"/>
<rect x="666" y="214" width="3" height="9" fill="#00ff00"/>
<rect x="673" y="203" width="1" height="21" fill="#000"/>
<rect x="671" y="211" width="5" height="1" fill="#000"/>
<rect x="679" y="212" width="1" height="17" fill="#000"/>
<rect x="677" y="212" width="5" height="10" fill="#000"/>
<rect x="678" y="213" width="3" height="8" fill="#00ff00"/>
<rect x="685" y="214" width="1" height="39" fill="#000"/>
<rect x="683" y="216" width="5" height="32" fill="#000"/>
<rect x="684" y="217" width="3" height="30" fill="#ff0000"/>
<rect x="691" y="221" width="1" height="29" fill="#000"/>
<rect x="689" y="222" width="5" height="28" fill="#000"/>
<rect x="690" y="223" width="3" height="26" fill="#00ff00"/>
<rect x="697" y="223" width="1" height="21" fill="#000"/>
<rect x="695" y="230" width="5" height="12" fill="#000"/>
<rect x="696" y="231" width="3" height="10" fill="#ff0000"/>
<rect x="703" y="233" width="1" height="20" fill="#000"/>
<rect x="701" y="236" width="5" height="14" fill="#000"/>
<rect x="702" y="237" width="3" height="12" fill="#ff0000"/>
<rect x="709" y="224" width="1" height="22" fill="#000"/>
<rect x="707" y="234" width="5" height="12" fill="#000"/>
<rect x="708" y="235" width="3" height="10" fill="#00ff00"/>
<rect x="715" y="238" width="1" height="15" fill="#000"/>
<rect x="713" y="239" width="5" height="9" fill="#000"/>
<rect x="714" y="240" width="3" height="7" fill="#ff0000"/>
<rect x="721" y="237" width="1" height="20" fill="#000"/>
<rect x="719" y="240" width="5" height="8" fill="#000"/>
<rect x="720" y="241" width="3" height="6" fill="#00ff00"/>
<rect x="727" y="237" width="1" height="39" fill="#000"/>
<rect x="725" y="245" width="5" height="13" fill="#000"/>
<rect x="726" y="246" width="3" height="11" fill="#ff0000"/>
<rect x="733" y="264" width="1" height="27" fill="#000"/>
<rect x="731" y="269" width="5" height="20" fill="#000"/>
<rect x="732" y="270" width="3" height="18" fill="#ff0000"/>
<rect x="739" y="290" width="1" height="23" fill="#000"/>
<rect x="737" y="299" width="5" height="3" fill="#000"/>
<rect x="738" y="300" width="3" height="1" fill="#ff0000"/>
<rect x="745" y="277" width="1" height="29" fill="#000"/>
<rect x="743" y="290" width="5" height="12" fill="#000"/>
<rect x="744" y="291" width="3" height="10" fill="#ff0000"/>
<rect x="751" y="285" width="1" height="16" fill="#000"/>
<rect x="749" y="286" width="5" height="13" fill="#000"/>
<rect x="750" y="287" width="3" height="11" fill="#ff0000"/>
<rect x="757" y="283" width="1" height="20" fill="#000"/>
<rect x="755" y="294" width="5" height="8" fill="#000"/>
<rect x="756" y="295" width="3" height="6" fill="#ff0000"/>
<rect x="763" y="296" width="1" height="13" fill="#000"/>
<rect x="761" y="303" width="5" height="5" fill="#000"/>
<rect x="762" y="304" width="3" height="3" fill="#ff0000"/>
<rect x="769" y="296" width="1" height="22" fill="#000"/>
<rect x="767" y="308" width="5" height="9" fill="#000"/>
<rect x="768" y="309" width="3" height="7" fill="#ff0000"/>
<rect x="775" y="321" width="1" height="35" fill="#000"/>
<rect x="773" y="321" width="5" height="28" fill="#000"/>
<rect x="774" y="322" width="3" height="26" fill="#ff0000"/>
<rect x="781" y="332" width="1" height="20" fill="#000"/>
<rect x="779" y="337" width="5" height="12" fill="#000"/>
<rect x="780" y="338" width="3" height="10" fill="#00ff00"/>
<rect x="787" y="326" width="1" height="29" fill="#000"/>
<rect x="785" y="330" width="5" height="24" fill="#000"/>
<rect x="786" y="331" width="3" height="22" fill="#ff0000"/>
<rect x="793" y="330" width="1" height="21" fill="#000"/>
<rect x="791" y="335" width="5" height="9" fill="#000"/>
<rect x="792" y="336" width="3" height="7" fill="#00ff00"/>
<rect x="799" y="320" width="1" height="37" fill="#000"/>
<rect x="797" y="334" width="5" height="3" fill="#000"/>
<rect x="798" y="335" width="3" height="1" fill="#ff0000"/>
<rect x="805" y="321" width="1" height="18" fill="#000"/>
<rect x="803" y="333" width="5" height="3" fill="#000"/>
<rect x="804" y="334" width="3" height="1" fill="#00ff00"/>
<rect x="811" y="311" width="1" height="42" fill="#000"/>
<rect x="809" y="312" width="5" height="32" fill="#000"/>
<rect x="810" y="313" width="3" height="30" fill="#00ff00"/>
<rect x="817" y="294" width="1" height="16" fill="#000"/>
<rect x="815" y="303" width="5" height="5" fill="#000"/>
<rect x="816" y="304" width="3" height="3" fill="#ff0000"/>
<rect x="823" y="291" width="1" height="16" fill="#000"/>
<rect x="821" y="299" width="5" height="5" fill="#000"/>
<rect x="822" y="300" width="3" height="3" fill="#00ff00"/>
<rect x="829" y="291" width="1" height="13" fill="#000"/>
<rect x="827" y="295" width="5" height="2" fill="#000"/>
<rect x="835" y="276" width="1" height="20" fill="#000"/>
<rect x="833" y="289" width="5" height="7" fill="#000"/>
<rect x="834" y="290" width="3" height="5" fill="#ff0000"/>
<rect x="841" y="290" width="1" height="21" fill="#000"/>
<rect x="839" y="295" width="5" height="3" fill="#000"/>
<rect x="840" y="296" width="3" height="1" fill="#00ff00"/>
<rect x="847" y="277" width="1" height="16" fill="#000"/>
<rect x="845" y="282" width="5" height="8" fill="#000"/>
<rect x="846" y="283" width="3" height="6" fill="#00ff00"/>
<rect x="853" y="274" width="1" height="19" fill="#000"/>
<rect x="851" y="281" width="5" height="6" fill="#000"/>
<rect x="852" y="282" width="3" height="4" fill="#ff0000"/>
<rect x="859" y="291" width="1" height="18" fill="#000"/>
<rect x="857" y="291" width="5" height="15" fill="#000"/>
<rect x="858" y="292" width="3" height="13" fill="#ff0000"/>
<rect x="865" y="297" width="1" height="15" fill="#000"/>
<rect x="863" y="298" width="5" height="5" fill="#000"/>
<rect x="864" y="299" width="3" height="3" fill="#00ff00"/>
<rect x="871" y="279" width="1" height="21" fill="#000"/>
<rect x="869" y="282" width="5" height="16" fill="#000"/>
<rect x="870" y="283" width="3" height="14" fill="#00ff00"/>
<rect x="877" y="282" width="1" height="15" fill="#000"/>
<rect x="875" y="283" width="5" height="9" fill="#000"/>
<rect x="876" y="284" width="3" height="7" fill="#ff0000"/>
<rect x="883" y="286" width="1" height="16" fill="#000"/>
<rect x="881" y="288" width="5" height="3" fill="#000"/>
<rect x="882" y="289" width="3" height="1" fill="#00ff00"/>
<rect x="889" y="288" width="1" height="15" fill="#000"/>
<rect x="887" y="290" width="5" height="6" fill="#000"/>
<rect x="888" y="291" width="3" height="4" fill="#ff0000"/>
<rect x="895" y="284" width="1" height="12" fill="#000"/>
<rect x="893" y="287" width="5" height="6" fill="#000"/>
<rect x="894" y="288" width="3" height="4" fill="#00ff00"/>
<rect x="901" y="234" width="1" height="27" fill="#000"/>
<rect x="899" y="237" width="5" height="16" fill="#000"/>
<rect x="900" y="238" width="3" height="14" fill="#ff0000"/>
<rect x="907" y="234" width="1" height="16" fill="#000"/>
<rect x="905" y="235" width="5" height="11" fill="#000"/>
<rect x="906" y="236" width="3" height="9" fill="#00ff00"/>
<rect x="913" y="222" width="1" height="23" fill="#000"/>
<rect x="911" y="224" width="5" height="18" fill="#000"/>
<rect x="912" y="225" width="3" height="16" fill="#00ff00"/>
<rect x="919" y="223" width="1" height="17" fill="#000"/>
<rect x="917" y="223" width="5" height="8" fill="#000"/>
<rect x="918" y="224" width="3" height="6" fill="#ff0000"/>
<rect x="925" y="221" width="1" height="17" fill="#000"/>
<rect x="923" y="221" width="5" height="13" fill="#000"/>
<rect x="924" y="222" width="3" height="11" fill="#ff0000"/>
<rect x="931" y="227" width="1" height="18" fill="#000"/>
<rect x="929" y="227" width="5" height="11" fill="#000"/>
<rect x="930" y="228" width="3" height="9" fill="#00ff00"/>
<rect x="937" y="216" width="1" height="20" fill="#000"/>
<rect x="935" y="216" width="5" height="17" fill="#000"/>
<rect x="936" y="217" width="3" height="15" fill="#00ff00"/>
<rect x="943" y="198" width="1" height="19" fill="#000"/>
<rect x="941" y="208" width="5" height="1" fill="#000"/>
<rect x="949" y="207" width="1" height="26" fill="#000"/>
<rect x="947" y="211" width="5" height="15" fill="#000"/>
<rect x="948" y="212" width="3" height="13" fill="#ff0000"/>
<rect x="955" y="220" width="1" height="15" fill="#000"/>
<rect x="953" y="220" width="5" height="4" fill="#000"/>
<rect x="954" y="221" width="3" height="2" fill="#00ff00"/>
<rect x="961" y="206" width="1" height="21" fill="#000"/>
<rect x="959" y="212" width="5" height="7" fill="#000"/>
<rect x="960" y="213" width="3" height="5" fill="#00ff00"/>
<rect x="967" y="208" width="1" height="11" fill="#000"/>
<rect x="965" y="209" width="5" height="4" fill="#000"/>
<rect x="966" y="210" width="3" height="2" fill="#ff0000"/>
<rect x="973" y="204" width="1" height="15" fill="#000"/>
<rect x="971" y="211" width="5" height="6" fill="#000"/>
<rect x="972" y="212" width="3" height="4" fill="#ff0000"/>
<rect x="979" y="215" width="1" height="14" fill="#000"/>
<rect x="977" y="216" width="5" height="4" fill="#000"/>
<rect x="978" y="217" width="3" height="2" fill="#00ff00"/>
<rect x="985" y="206" width="1" height="25" fill="#000"/>
<rect x="983" y="216" width="5" height="14" fill="#000"/>
<rect x="984" y="217" width="3" height="12" fill="#ff0000"/>
<rect x="991" y="235" width="1" height="14" fill="#000"/>
<rect x="989" y="235" width="5" height="5" fill="#000"/>
<rect x="990" y="236" width="3" height="3" fill="#ff0000"/>
<rect x="997" y="240" width="1" height="26" fill="#000"/>
<rect x="995" y="242" width="5" height="15" fill="#000"/>
<rect x="996" y="243" width="3" height="13" fill="#ff0000"/>
<rect x="1003" y="255" width="1" height="18" fill="#000"/>
<rect x="1001" y="255" width="5" height="11" fill="#000"/>
<rect x="1002" y="256" width="3" height="9" fill="#ff0000"/>
<rect x="1009" y="237" width="1" height="31" fill="#000"/>
<rect x="1007" y="254" width="5" height="13" fill="#000"/>
<rect x="1008" y="255" width="3" height="11" fill="#00ff00"/>
<rect x="1015" y="233" width="1" height="20" fill="#000"/>
<rect x="1013" y="240" width="5" height="8" fill="#000"/>
<rect x="1014" y="241" width="3" height="6" fill="#00ff00"/>
<rect x="1021" y="243" width="1" height="26" fill="#000"/>
<rect x="1019" y="246" width="5" height="10" fill="#000"/>
<rect x="1020" y="247" width="3" height="8" fill="#ff0000"/>
<rect x="1027" y="279" width="1" height="39" fill="#000"/>
<rect x="1025" y="283" width="5" height="30" fill="#000"/>
<rect x="1026" y="284" width="3" height="28" fill="#ff0000"/>
<rect x="1033" y="279" width="1" height="27" fill="#000"/>
<rect x="1031" y="283" width="5" height="19" fill="#000"/>
<rect x="1032" y="284" width="3" height="17" fill="#00ff00"/>
<rect x="1039" y="316" width="1" height="39" fill="#000"/>
<rect x="1037" y="316" width="5" height="39" fill="#000"/>
<rect x="1038" y="317" width="3" height="37" fill="#ff0000"/>
<rect x="1045" y="319" width="1" height="42" fill="#000"/>
<rect x="1043" y="336" width="5" height="24" fill="#000"/>
<rect x="1044" y="337" width="3" height="22" fill="#ff0000"/>
<rect x="1051" y="325" width="1" height="28" fill="#000"/>
<rect x="1049" y="333" width="5" height="17" fill="#000"/>
<rect x="1050" y="334" width="3" height="15" fill="#00ff00"/>
<rect x="1057" y="317" width="1" height="21" fill="#000"/>
<rect x="1055" y="318" width="5" height="8" fill="#000"/>
<rect x="1056" y="319" width="3" height="6" fill="#00ff00"/>
<rect x="1063" y="262" width="1" height="37" fill="#000"/>
<rect x="1061" y="272" width="5" height="21" fill="#000"/>
<rect x="1062" y="273" width="3" height="19" fill="#00ff00"/>
<rect x="1069" y="256" width="1" height="19" fill="#000"/>
<rect x="1067" y="262" width="5" height="7" fill="#000"/>
<rect x="1068" y="263" width="3" height="5" fill="#00ff00"/>
<rect x="1075" y="258" width="1" height="33" fill="#000"/>
<rect x="1073" y="265" width="5" height="5" fill="#000"/>
<rect x="1074" y="266" width="3" height="3" fill="#ff0000"/>
<rect x="1081" y="266" width="1" height="18" fill="#000"/>
<rect x="1079" y="274" width="5" height="5" fill="#000"/>
<rect x="1080" y="275" width="3" height="3" fill="#00ff00"/>
<rect x="1087" y="227" width="1" height="41" fill="#000"/>
<rect x="1085" y="227" width="5" height="35" fill="#000"/>
<rect x="1086" y="228" width="3" height="33" fill="#00ff00"/>
<rect x="1093" y="173" width="1" height="33" fill="#000"/>
<rect x="1091" y="178" width="5" height="27" fill="#000"/>
<rect x="1092" y="179" width="3" height="25" fill="#00ff00"/>
<rect x="1099" y="165" width="1" height="25" fill="#000"/>
<rect x="1097" y="176" width="5" height="14" fill="#000"/>
<rect x="1098" y="177" width="3" height="12" fill="#00ff00"/>
<rect x="1105" y="163" width="1" height="19" fill="#000"/>
<rect x="1103" y="168" width="5" height="5" fill="#000"/>
<rect x="1104" y="169" width="3" height="3" fill="#00ff00"/>
<rect x="1111" y="141" width="1" height="33" fill="#000"/>
<rect x="1109" y="148" width="5" height="23" fill="#000"/>
<rect x="1110" y="149" width="3" height="21" fill="#00ff00"/>
<rect x="1117" y="141" width="1" height="40" fill="#000"/>
<rect x="1115" y="154" width="5" height="26" fill="#000"/>
<rect x="1116" y="155" width="3" height="24" fill="#ff0000"/>
<rect x="1123" y="178" width="1" height="26" fill="#000"/>
<rect x="1121" y="185" width="5" height="12" fill="#000"/>
<rect x="1122" y="186" width="3" height="10" fill="#00ff00"/>
<rect x="1129" y="172" width="1" height="14" fill="#000"/>
<rect x="1127" y="177" width="5" height="6" fill="#000"/>
<rect x="1128" y="178" width="3" height="4" fill="#00ff00"/>
<rect x="1135" y="164" width="1" height="24" fill="#000"/>
<rect x="1133" y="164" width="5" height="17" fill="#000"/>
<rect x="1134" y="165" width="3" height="15" fill="#00ff00"/>
<rect x="1141" y="151" width="1" height="22" fill="#000"/>
<rect x="1139" y="153" width="5" height="11" fill="#000"/>
<rect x="1140" y="154" width="3" height="9" fill="#ff0000"/>
<rect x="1147" y="148" width="1" height="23" fill="#000"/>
<rect x="1145" y="148" width="5" height="23" fill="#000"/>
<rect x="1146" y="149" width="3" height="21" fill="#00ff00"/>
<rect x="1153" y="140" width="1" height="21" fill="#000"/>
<rect x="1151" y="141" width="5" height="17" fill="#000"/>
<rect x="1152" y="142" width="3" height="15" fill="#00ff00"/>
<rect x="1159" y="134" width="1" height="15" fill="#000"/>
<rect x="1157" y="138" width="5" height="1" fill="#000"/>
<rect x="1165" y="130" width="1" height="16" fill="#000"/>
<rect x="1163" y="135" width="5" height="10" fill="#000"/>
<rect x="1164" y="136" width="3" height="8" fill="#ff0000"/>
<rect x="1171" y="126" width="1" height="22" fill="#000"/>
<rect x="1169" y="130" width="5" height="16" fill="#000"/>
<rect x="1170" y="131" width="3" height="14" fill="#00ff00"/>
<rect x="1177" y="127" width="1" height="32" fill="#000"/>
<rect x="1175" y="127" width="5" height="17" fill="#000"/>
<rect x="1176" y="128" width="3" height="15" fill="#00ff00"/>
<rect x="1183" y="87" width="1" height="32" fill="#000"/>
<rect x="1181" y="94" width="5" height="20" fill="#000"/>
<rect x="1182" y="95" width="3" height="18" fill="#00ff00"/>
<rect x="1189" y="65" width="1" height="37" fill="#000"/>
<rect x="1187" y="77" width="5" height="24" fill="#000"/>
<rect x="1188" y="78" width="3" height="22" fill="#00ff00"/>
<rect x="1195" y="68" width="1" height="22" fill="#000"/>
<rect x="1193" y="88" width="5" height="1" fill="#000"/>
<rect x="1201" y="80" width="1" height="22" fill="#000"/>
<rect x="1199" y="92" width="5" height="3" fill="#000"/>
<rect x="1200" y="93" width="3" height="1" fill="#00ff00"/>
<rect x="1207" y="77" width="1" height="21" fill="#000"/>
<rect x="1205" y="85" width="5" height="5" fill="#000"/>
<rect x="1206" y="86" width="3" height="3" fill="#ff0000"/>
<rect x="1213" y="88" width="1" height="22" fill="#000"/>
<rect x="1211" y="88" width="5" height="2" fill="#000"/>
<rect x="1219" y="81" width="1" height="16" fill="#000"/>
<rect x="1217" y="85" width="5" height="1" fill="#000"/>
<rect x="1225" y="70" width="1" height="22" fill="#000"/>
<rect x="1223" y="74" width="5" height="13" fill="#000"/>
<rect x="1224" y="75" width="3" height="11" fill="#00ff00"/>
<rect x="1231" y="65" width="1" height="27" fill="#000"/>
<rect x="1229" y="72" width="5" height="1" fill="#000"/>
</g>
<text transform="translate(35.5,30) scale(0.958,1)" font-size="32" font-weight="bold" fill="#828282">KO</text>
<text class="l" x="111" y="30">Jan 14</text>
<text class="l" x="161.2" y="30">O:60.94</text>
<text class="l" x="204.6" y="30">H:61.18</text>
<text class="l" x="248.2" y="30">L:60.36</text>
<text class="l" x="289.4" y="30">C:60.93</text>
<text class="l" x="344.75" y="30">Vol:7.95M</text>
<text x="1222" y="29" font-size="13.33" font-weight="bold" fill="#009900" text-anchor="end">+0.03 (0.05%)</text>
<text class="l" x="1240" y="41">62.00</text>
<text class="l" x="1240" y="74">61.00</text>
<text class="l" x="1240" y="107">60.00</text>
<text class="l" x="1240" y="141">59.00</text>
<text class="l" x="1240" y="174">58.00</text>
<text class="l" x="1240" y="207">57.00</text>
<text class="l" x="1240" y="240">56.00</text>
<text class="l" x="1240" y="273">55.00</text>
<text class="l" x="1240" y="307">54.00</text>
<text class="l" x="1240" y="340">53.00</text>
<text class="l" x="1240" y="373">52.00</text>
<rect x="1238" y="67" width="31" height="12" fill="#ffff00" shape-rendering="crispEdges"/>
<text class="l" x="1240" y="77">60.93</text>
<text class="l" x="33.5" y="313" text-anchor="end">60M</text>
<text class="l" x="33.5" y="333" text-anchor="end">40M</text>
<text class="l" x="33.5" y="353" text-anchor="end">20M</text>
<text class="l" x="157.0" y="386" text-anchor="middle">May</text>
<text class="l" x="277.0" y="386" text-anchor="middle">Jun</text>
<text class="l" x="409.0" y="386" text-anchor="middle">Jul</text>
<text class="l" x="535.0" y="386" text-anchor="middle">Aug</text>
<text class="l" x="667.0" y="386" text-anchor="middle">Sep</text>
<text class="l" x="793.0" y="386" text-anchor="middle">Oct</text>
<text class="l" x="919.0" y="386" text-anchor="middle">Nov</text>
<text class="l" x="1045.0" y="386" text-anchor="middle">Dec</text>
<text class="l" x="1177.0" y="386" text-anchor="middle">2022</text>
<text x="0" y="0" transform="translate(28.4,171.6) rotate(-90) scale(0.875,1)" font-size="14.6" font-weight="bold" fill="#dcdcdc" stroke="#dcdcdc" stroke-width="0.3" text-anchor="middle">DAILY</text>
<text x="1089.8" y="221.7" font-size="15.8" font-weight="bold" fill="#000">Gap up</text>
</svg></body></html>
